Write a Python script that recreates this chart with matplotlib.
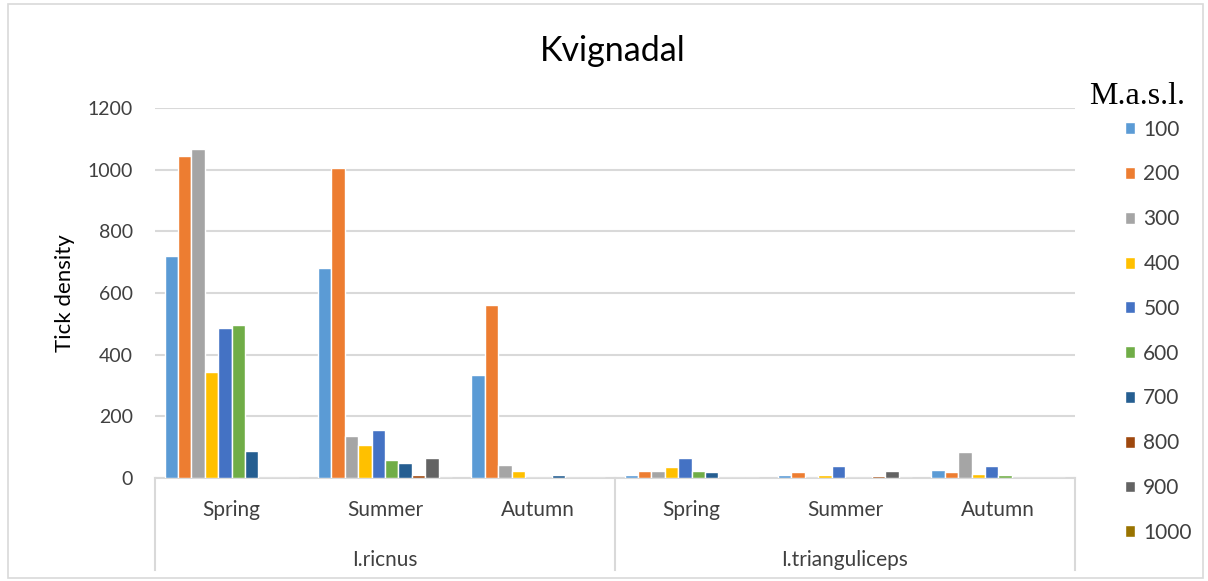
import numpy as np
import matplotlib.pyplot as plt
from matplotlib.patches import Rectangle

# Data
seasons = ['Spring', 'Summer', 'Autumn', 'Spring', 'Summer', 'Autumn']
species = ['I.ricnus', 'I.trianguliceps']
altitudes = ['100', '200', '300', '400', '500', '600', '700', '800', '900', '1000']

m100 = [720, 682, 335, 10, 10, 27]
m200 = [1045, 1006, 560, 24, 20, 20]
m300 = [1068, 137, 43, 24, 0, 85]
m400 = [345, 108, 24, 36, 10, 14]
m500 = [487, 155, 0, 65, 39, 39]
m600 = [495, 58, 0, 24, 0, 10]
m700 = [88, 50, 10, 19, 0, 0]
m800 = [0, 9, 0, 0, 6, 0]
m900 = [0, 66, 0, 0, 24, 0]
m1000 = [0, 0, 0, 0, 0, 0]
series = [m100, m200, m300, m400, m500, m600, m700, m800, m900, m1000]

colors = ['#5B9BD5', '#ED7D31', '#A5A5A5', '#FFC000', '#4472C4',
          '#70AD47', '#255E91', '#9E480E', '#636363', '#997300']

plt.rcParams['font.family'] = ['Lato', 'DejaVu Sans']

fig = plt.figure(figsize=(12.08, 5.81), dpi=100)
ax = fig.add_axes([0.1283, 0.1773, 0.7616, 0.6368])

x = np.arange(len(seasons))
slot = 0.0874
for i, (vals, c) in enumerate(zip(series, colors)):
    offs = (i - 4.5) * slot
    ax.bar(x + offs, vals, width=slot, color=c, edgecolor='white',
           linewidth=1.0, label=altitudes[i], zorder=3)

ax.set_xlim(-0.5, 5.5)
ax.set_ylim(0, 1200)
ax.set_yticks(range(0, 1201, 200))
ax.yaxis.grid(True, color='#D9D9D9', linewidth=1.5, zorder=0)
ax.set_axisbelow(True)
for s in ['top', 'right', 'left']:
    ax.spines[s].set_visible(False)
ax.spines['bottom'].set_color('#D9D9D9')
ax.spines['bottom'].set_linewidth(1.5)
ax.tick_params(axis='y', length=0, labelsize=14, colors='#404040', pad=16)
ax.tick_params(axis='x', length=0, labelsize=15, colors='#404040', pad=16)
ax.set_xticks(x)
ax.set_xticklabels(seasons)
ax.set_ylabel('Tick density', fontsize=16, color='black', labelpad=9)

# second level of category axis
trans = ax.get_xaxis_transform()
for xs in [-0.5, 2.5, 5.5]:
    ax.plot([xs, xs], [0, -0.25], transform=trans, color='#D9D9D9',
            linewidth=1.5, clip_on=False)
for j, sp in enumerate(species):
    ax.text(1 + 3 * j, -0.222, sp, transform=trans, ha='center', va='center',
            fontsize=15, color='#404040')

fig.text(0.507, 0.912, 'Kvignadal', ha='center', va='center', fontsize=24.5,
         color='black')

# legend with its title drawn separately
fig.text(1137 / 1208, 1 - 96 / 581, 'M.a.s.l.', ha='center', va='center',
         family='Liberation Serif', fontsize=23, color='black')
leg = ax.legend(loc='upper left', bbox_to_anchor=(1110 / 1208, 1 - 105 / 581),
                bbox_transform=fig.transFigure, frameon=False, fontsize=15,
                handlelength=0.5, handleheight=0.5, handletextpad=0.4,
                labelspacing=1.19, borderpad=0.2)
for t in leg.get_texts():
    t.set_color('#404040')

fig.patches.append(Rectangle((8 / 1208, 3 / 581), 1195 / 1208, 574 / 581,
                             transform=fig.transFigure, fill=False,
                             edgecolor='#D9D9D9', linewidth=1.2))

fig.savefig('out.png', dpi=100)
